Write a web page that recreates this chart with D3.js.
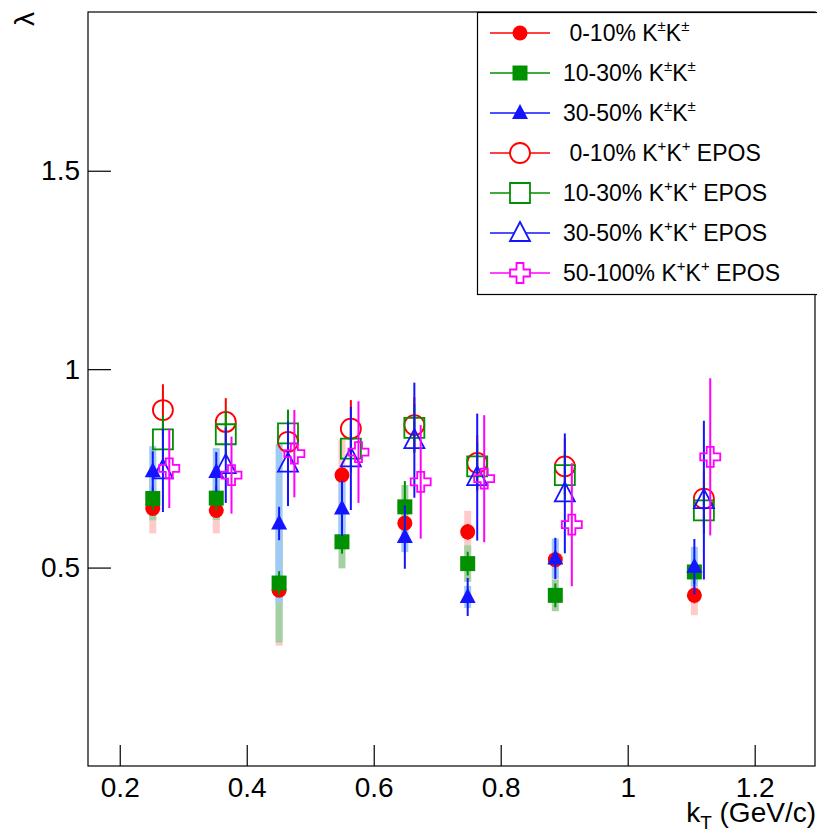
<!DOCTYPE html>
<html>
<head>
<meta charset="utf-8">
<script src="https://cdn.jsdelivr.net/npm/d3@7"></script>
<style>
  html, body { margin: 0; padding: 0; background: #fff; }
  svg { display: block; font-family: "Liberation Sans", Arial, sans-serif; }
</style>
</head>
<body>
<svg id="chart" width="817" height="832"></svg>
<script>
// ---------------- data ----------------
const kTData   = [0.252, 0.352, 0.451, 0.550, 0.649, 0.748, 0.886, 1.105];
const kTEpos   = [0.268, 0.367, 0.465, 0.564, 0.664, 0.763, 0.901, 1.120];
const kTEpos50 = [0.278, 0.376, 0.475, 0.576, 0.674, 0.774, 0.912, 1.130];

const lam0010     = [0.649, 0.644, 0.443, 0.733, 0.612, 0.590, 0.520, 0.430];
const lam0010Stat = [0.015, 0.015, 0.015, 0.02, 0.02, 0.02, 0.02, 0.02];
const lam0010Sys  = [0.063, 0.058, 0.140, 0.090, 0.050, 0.053, 0.050, 0.050];

const lam1030     = [0.674, 0.675, 0.461, 0.565, 0.653, 0.510, 0.430, 0.489];
const lam1030Stat = [0.03, 0.03, 0.03, 0.03, 0.065, 0.03, 0.03, 0.03];
const lam1030Sys  = [0.055, 0.055, 0.150, 0.067, 0.055, 0.046, 0.040, 0.030];

const lam3050     = [0.743, 0.741, 0.611, 0.649, 0.577, 0.426, 0.523, 0.502];
const lam3050Stat = [0.050, 0.050, 0.042, 0.070, 0.080, 0.048, 0.052, 0.070];
const lam3050Sys  = [0.063, 0.060, 0.200, 0.068, 0.038, 0.028, 0.050, 0.050];

const epos0010     = [0.897, 0.867, 0.817, 0.850, 0.859, 0.764, 0.755, 0.674];
const epos0010Err  = [0.065, 0.060, 0.060, 0.072, 0.070, 0.070, 0.070, 0.070];
const epos1030     = [0.823, 0.836, 0.838, 0.800, 0.852, 0.755, 0.733, 0.644];
const epos1030Err  = [0.060, 0.060, 0.060, 0.060, 0.060, 0.060, 0.060, 0.060];
const epos3050     = [0.745, 0.758, 0.762, 0.775, 0.821, 0.728, 0.687, 0.670];
const epos3050Err  = [0.105, 0.095, 0.107, 0.130, 0.145, 0.160, 0.151, 0.200];
const epos50100    = [0.750, 0.733, 0.787, 0.791, 0.716, 0.724, 0.608, 0.779];
const epos50100Err = [0.100, 0.097, 0.110, 0.128, 0.143, 0.160, 0.155, 0.198];

const xTicks = [0.2, 0.4, 0.6, 0.8, 1, 1.2];
const yTicks = [0.5, 1, 1.5];

// ---------------- layout ----------------
const svg = d3.select("#chart");
const L = 88, R = 815, T = 12, B = 766;
const x = d3.scaleLinear().domain([0.15, 1.295]).range([L, R]);
const y = d3.scaleLinear().domain([0, 1.9]).range([B, T]);

const RED = "#ff0000", GREEN = "#009000", BLUE = "#1414ff", MAG = "#ff00ff";

function markerPath(type) {
  switch (type) {
    case "circleF": return d3.symbol().type(d3.symbolCircle).size(Math.PI * 7.5 * 7.5)();
    case "circleO": return d3.symbol().type(d3.symbolCircle).size(Math.PI * 10 * 10)();
    case "squareF": return "M-7.5,-7.5H7.5V7.5H-7.5Z";
    case "squareO": return "M-10,-10H10V10H-10Z";
    case "triF": return "M0,-9L8,6L-8,6Z";
    case "triO": return "M0,-11L10,8L-10,8Z";
    case "cross": {
      const a = 10, b = 3.5;
      return `M${-b},${-a}H${b}V${-b}H${a}V${b}H${b}V${a}H${-b}V${b}H${-a}V${-b}H${-b}Z`;
    }
  }
}
function styleMarker(sel, type, color) {
  const filled = type.endsWith("F");
  sel.attr("d", markerPath(type))
     .attr("fill", filled ? color : "none")
     .attr("stroke", filled ? "none" : color)
     .attr("stroke-width", filled ? 0 : 1.8);
}

const series = [
  {xs: kTData, ys: lam0010, stat: lam0010Stat, sys: lam0010Sys, color: RED,   marker: "circleF", sysFill: "#ffcaca"},
  {xs: kTData, ys: lam1030, stat: lam1030Stat, sys: lam1030Sys, color: GREEN, marker: "squareF", sysFill: "#a3d1a3"},
  {xs: kTData, ys: lam3050, stat: lam3050Stat, sys: lam3050Sys, color: BLUE,  marker: "triF",    sysFill: "#9dcbf6"},
  {xs: kTEpos, ys: epos0010, stat: epos0010Err, color: RED,   marker: "circleO"},
  {xs: kTEpos, ys: epos1030, stat: epos1030Err, color: GREEN, marker: "squareO"},
  {xs: kTEpos, ys: epos3050, stat: epos3050Err, color: BLUE,  marker: "triO"},
  {xs: kTEpos50, ys: epos50100, stat: epos50100Err, color: MAG, marker: "cross"}
];

// systematic bands first
const gSys = svg.append("g");
series.filter(s => s.sys).forEach(s => {
  gSys.append("g").selectAll("rect").data(s.ys.map((v, i) => ({x: s.xs[i], y: v, e: s.sys[i]})))
    .enter().append("rect")
    .attr("x", d => x(d.x) - 3.5).attr("width", 7)
    .attr("y", d => y(d.y + d.e)).attr("height", d => y(d.y - d.e) - y(d.y + d.e))
    .attr("fill", s.sysFill);
});

// error bars + markers
series.forEach(s => {
  const g = svg.append("g");
  const pts = s.ys.map((v, i) => ({x: s.xs[i], y: v, e: s.stat[i]}));
  g.selectAll("line").data(pts).enter().append("line")
    .attr("x1", d => x(d.x)).attr("x2", d => x(d.x))
    .attr("y1", d => y(d.y + d.e)).attr("y2", d => y(d.y - d.e))
    .attr("stroke", s.color).attr("stroke-width", 2);
  g.selectAll("path").data(pts).enter().append("path")
    .attr("transform", d => `translate(${x(d.x)},${y(d.y)})`)
    .call(styleMarker, s.marker, s.color);
});

// ---------------- frame & axes ----------------
svg.append("rect").attr("x", L).attr("y", T).attr("width", R - L).attr("height", B - T)
  .attr("fill", "none").attr("stroke", "#000").attr("stroke-width", 1.2);

const xAxis = d3.axisBottom(x).tickValues(xTicks).tickSizeInner(-21).tickSizeOuter(0)
  .tickPadding(11).tickFormat(d3.format("~g"));
const gx = svg.append("g").attr("transform", `translate(0,${B})`).call(xAxis);
gx.select(".domain").remove();
gx.selectAll(".tick line").attr("stroke", "#000").attr("stroke-width", 1.2);
gx.selectAll(".tick text").attr("font-size", 28).attr("fill", "#000")
  .attr("font-family", "Liberation Sans, Arial, sans-serif");

const yAxis = d3.axisLeft(y).tickValues(yTicks).tickSizeInner(-23).tickSizeOuter(0)
  .tickPadding(8).tickFormat(d3.format("~g"));
const gy = svg.append("g").attr("transform", `translate(${L},0)`).call(yAxis);
gy.select(".domain").remove();
gy.selectAll(".tick line").attr("stroke", "#000").attr("stroke-width", 1.2);
gy.selectAll(".tick text").attr("font-size", 28).attr("fill", "#000")
  .attr("font-family", "Liberation Sans, Arial, sans-serif");

// axis titles
svg.append("text").attr("transform", "translate(34,12) rotate(-90)")
  .attr("text-anchor", "end").attr("font-size", 28).text("λ");

const xt = svg.append("text").attr("x", 816).attr("y", 822).attr("text-anchor", "end")
  .attr("font-size", 28);
xt.append("tspan").text("k");
xt.append("tspan").attr("font-size", 19).attr("dy", 7).text("T");
xt.append("tspan").attr("dy", -7).text(" (GeV/c)");

// ---------------- legend ----------------
const legendItems = [
  {pre: " 0-10% ", sup: "±", post: "", marker: "circleF", color: RED},
  {pre: "10-30% ", sup: "±", post: "", marker: "squareF", color: GREEN},
  {pre: "30-50% ", sup: "±", post: "", marker: "triF", color: BLUE},
  {pre: " 0-10% ", sup: "+", post: " EPOS", marker: "circleO", color: RED},
  {pre: "10-30% ", sup: "+", post: " EPOS", marker: "squareO", color: GREEN},
  {pre: "30-50% ", sup: "+", post: " EPOS", marker: "triO", color: BLUE},
  {pre: "50-100% ", sup: "+", post: " EPOS", marker: "cross", color: MAG}
];
const lg = svg.append("g");
lg.append("rect").attr("x", 477.5).attr("y", 12.5).attr("width", 345).attr("height", 282)
  .attr("fill", "#fff").attr("stroke", "#000").attr("stroke-width", 1.2);
legendItems.forEach((it, i) => {
  const cy = 33 + i * 40;
  lg.append("line").attr("x1", 490).attr("x2", 550).attr("y1", cy).attr("y2", cy)
    .attr("stroke", it.color).attr("stroke-width", 1.5);
  lg.append("path").attr("transform", `translate(520,${cy})`).call(styleMarker, it.marker, it.color)
    .attr("fill", it.marker.endsWith("F") ? it.color : "#fff");
  const t = lg.append("text").attr("x", 563).attr("y", cy + 8).attr("font-size", 23)
    .attr("xml:space", "preserve").style("white-space", "pre");
  t.append("tspan").text(it.pre + "K");
  t.append("tspan").attr("font-size", 15).attr("dy", -10).text(it.sup);
  t.append("tspan").attr("dy", 10).text("K");
  t.append("tspan").attr("font-size", 15).attr("dy", -10).text(it.sup);
  t.append("tspan").attr("dy", 10).text(it.post);
});
</script>
</body>
</html>
